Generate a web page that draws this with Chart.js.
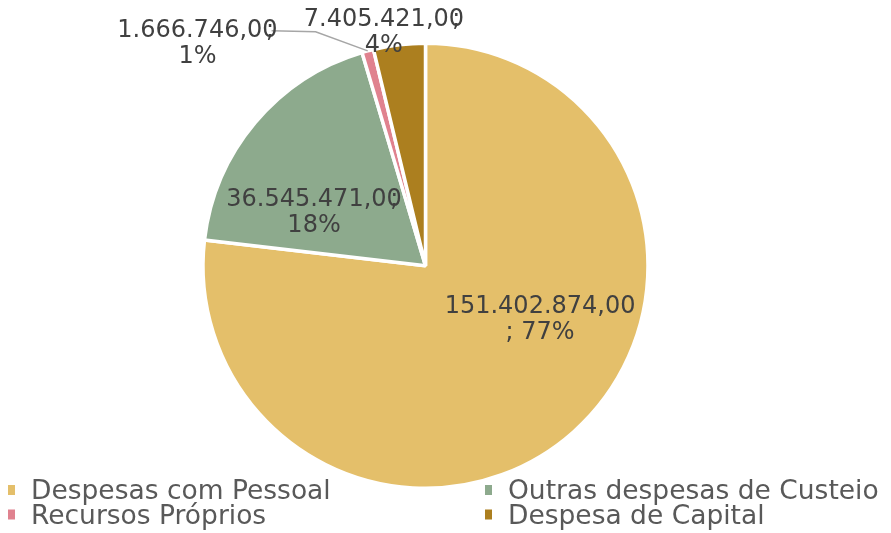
<!DOCTYPE html>
<html>
<head>
<meta charset="utf-8">
<script src="https://cdn.jsdelivr.net/npm/chart.js@4/dist/chart.umd.min.js"></script>
<style>
  html, body { margin: 0; padding: 0; background: #ffffff; }
  #wrap { width: 891px; height: 533px; position: relative; }
</style>
</head>
<body>
<div id="wrap"><canvas id="c" width="891" height="533"></canvas></div>
<script>
// ---- data ----
const categories = ["Despesas com Pessoal", "Outras despesas de Custeio", "Recursos Próprios", "Despesa de Capital"];
const values = [151402874, 36545471, 1666746, 7405421];
const valueLabels = ["151.402.874,00", "36.545.471,00", "1.666.746,00", "7.405.421,00"];
const percentLabels = ["; 77%", "18%", "1%", "4%"];
const overlapSemicolon = [false, true, true, true];
const colors = ["#E4BF6A", "#8DAA8D", "#E0828F", "#AC7F1F"];

// ---- label layout (relative to pie centre, in units of radius) ----
const labelLayout = [
  { dx: 0.515, dy: 0.245 },
  { dx: -0.501, dy: -0.238 },
  { dx: -1.025, dy: -0.998, leader: true },
  { dx: -0.187, dy: -1.049 }
];

const labelPlugin = {
  id: 'labels',
  afterDatasetsDraw(chart) {
    const ctx = chart.ctx;
    const meta = chart.getDatasetMeta(0);
    const arc0 = meta.data[0];
    const cx = arc0.x, cy = arc0.y, R = arc0.outerRadius;
    ctx.save();
    ctx.font = '24px "DejaVu Sans"';
    ctx.fillStyle = '#404040';
    ctx.textAlign = 'center';
    ctx.textBaseline = 'middle';
    const lh = 26;
    meta.data.forEach((arc, i) => {
      const L = labelLayout[i];
      const x = cx + L.dx * R, y = cy + L.dy * R;
      const w = ctx.measureText(valueLabels[i]).width;
      if (L.leader) {
        const mid = (arc.startAngle + arc.endAngle) / 2;
        const ex = cx + Math.cos(mid) * arc.outerRadius;
        const ey = cy + Math.sin(mid) * arc.outerRadius;
        ctx.strokeStyle = '#A6A6A6';
        ctx.lineWidth = 1.5;
        ctx.beginPath();
        ctx.moveTo(x + w / 2 - 6, y - lh / 2);
        ctx.lineTo(x + w / 2 + 38, y - lh / 2 + 1);
        ctx.lineTo(ex, ey);
        ctx.stroke();
      }
      ctx.fillText(valueLabels[i], x, y - lh / 2);
      if (overlapSemicolon[i]) {
        const zw = ctx.measureText('0').width;
        ctx.fillText(';', x + w / 2 - zw / 2, y - lh / 2);
      }
      ctx.fillText(percentLabels[i], x, y + lh / 2);
    });
    ctx.restore();
  }
};

const legendPlugin = {
  id: 'customLegend',
  afterDraw(chart) {
    const ctx = chart.ctx;
    const cols = [8, 485];
    const rows = [499, 523.5];
    ctx.save();
    ctx.font = '26.5px "DejaVu Sans"';
    ctx.textBaseline = 'alphabetic';
    ctx.textAlign = 'left';
    chart.data.labels.forEach((lab, i) => {
      const x = cols[i % 2], y = rows[Math.floor(i / 2)];
      ctx.fillStyle = chart.data.datasets[0].backgroundColor[i];
      ctx.fillRect(x, y - 14, 7, 10);
      ctx.fillStyle = '#595959';
      ctx.fillText(lab, x + 23, y);
    });
    ctx.restore();
  }
};

new Chart(document.getElementById('c'), {
  type: 'pie',
  data: {
    labels: categories,
    datasets: [{
      data: values,
      backgroundColor: colors,
      borderColor: '#ffffff',
      borderWidth: 3.5
    }]
  },
  options: {
    responsive: false,
    animation: false,
    layout: { padding: { top: 41.5, bottom: 43, left: 0, right: 40 } },
    plugins: {
      legend: { display: false },
      tooltip: { enabled: false }
    }
  },
  plugins: [labelPlugin, legendPlugin]
});
</script>
</body>
</html>
